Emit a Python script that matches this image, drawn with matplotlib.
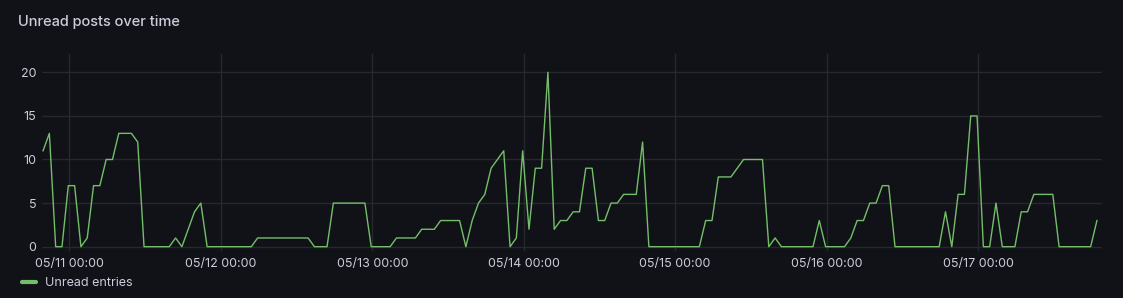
import matplotlib
matplotlib.use("Agg")
import matplotlib.pyplot as plt
import matplotlib.dates as mdates
from matplotlib.lines import Line2D
import pandas as pd

# ---- data ----
title = "Unread posts over time"
series_name = "Unread entries"
start_time = "2024-05-10 19:50"
unread = [
    11, 13, 0, 0, 7, 7, 0, 1, 7, 7, 10, 10, 13, 13, 13, 12,
    0, 0, 0, 0, 0, 1, 0, 2, 4, 5,
    0, 0, 0, 0, 0, 0, 0, 0,
    1, 1, 1, 1, 1, 1, 1, 1, 1,
    0, 0, 0,
    5, 5, 5, 5, 5, 5,
    0, 0, 0, 0,
    1, 1, 1, 1,
    2, 2, 2,
    3, 3, 3, 3,
    0, 3, 5, 6, 9, 10, 11, 0, 1, 11, 2, 9, 9, 20, 2, 3, 3, 4, 4, 9, 9,
    3, 3, 5, 5, 6, 6, 6, 12,
    0, 0, 0, 0, 0, 0, 0, 0, 0,
    3, 3, 8, 8, 8, 9, 10, 10, 10, 10,
    0, 1, 0, 0, 0, 0, 0, 0, 3, 0, 0, 0, 0,
    1, 3, 3, 5, 5, 7, 7,
    0, 0, 0, 0, 0, 0, 0, 0,
    4, 0, 6, 6, 15, 15, 0, 0, 5, 0, 0, 0,
    4, 4, 6, 6, 6, 6,
    0, 0, 0, 0, 0, 0, 3,
]
times = pd.date_range(start_time, periods=len(unread), freq="h")
y_ticks = [0, 5, 10, 15, 20]

# ---- style ----
BG = "#111217"
GRID = "#26282e"
TEXT = "#ccccdc"
GREEN = "#73bf69"

plt.rcParams["font.family"] = ["Inter", "DejaVu Sans"]

W, H = 1123, 298
fig = plt.figure(figsize=(W / 100, H / 100), dpi=100, facecolor=BG)
ax = fig.add_axes([42 / W, 1 - 250.7 / H, (1102 - 42) / W, (250.7 - 54) / H])
ax.set_facecolor(BG)

ax.plot(times, unread, color=GREEN, lw=1.0, solid_joinstyle="round")

x0 = pd.Timestamp(start_time) - pd.Timedelta(minutes=10)
x1 = pd.Timestamp("2024-05-17 19:38")
ax.set_xlim(x0, x1)
ax.set_ylim(-0.46, 22.1)

ax.set_yticks(y_ticks)
ax.xaxis.set_major_locator(mdates.DayLocator())
ax.xaxis.set_major_formatter(mdates.DateFormatter("%m/%d %H:%M"))
ax.grid(True, color=GRID, lw=1.0)
ax.set_axisbelow(True)
for s in ax.spines.values():
    s.set_visible(False)
ax.tick_params(axis="both", length=0, colors=TEXT, labelsize=9)
ax.tick_params(axis="y", pad=4)
ax.tick_params(axis="x", pad=5)

fig.text(18 / W, 1 - 22 / H, title, color=TEXT, fontsize=10.5,
         fontweight="medium", va="center", ha="left")

handle = Line2D([], [], color=GREEN, lw=3, solid_capstyle="round")
fig.legend([handle], [series_name], loc="center left",
           bbox_to_anchor=(22 / W, 1 - 283 / H), frameon=False,
           borderpad=0, borderaxespad=0, handlelength=1.1,
           handletextpad=0.75, fontsize=9, labelcolor=TEXT)

fig.savefig("out.png", dpi=100, facecolor=BG)
